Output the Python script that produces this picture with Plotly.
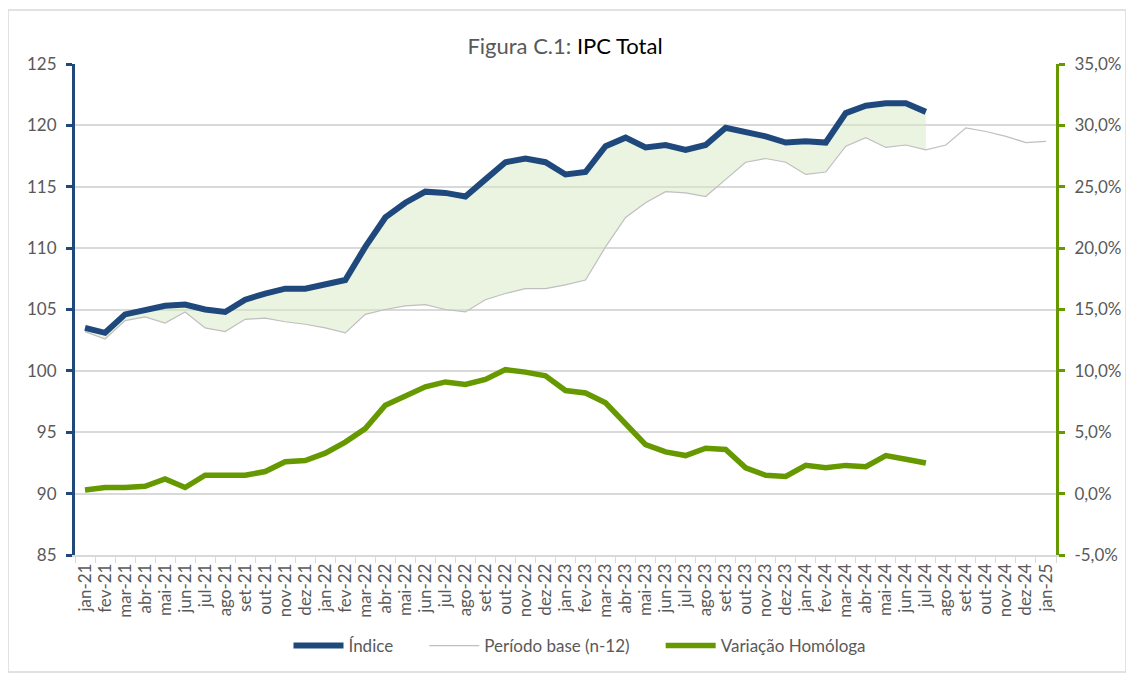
import plotly.graph_objects as go

BLUE = "#1F497D"
GREEN = "#669900"
GRAY_LINE = "#BFBFBF"
GRID_COL = "#D9D9D9"
TEXT_COL = "#595959"
FILL_COL = "rgba(216,232,196,0.5)"

MONTHS = ["jan", "fev", "mar", "abr", "mai", "jun", "jul", "ago", "set", "out", "nov", "dez"]
YEARS = ["21", "22", "23", "24"]
LABELS = [f"{m}-{y}" for y in YEARS for m in MONTHS] + ["jan-25"]

# Índice (jan-21 .. jul-24)
indice = [
    103.5, 103.1, 104.6, 105.0, 105.3, 105.4, 105.0, 104.8, 105.8, 106.3, 106.7, 106.7,
    107.0, 107.4, 110.1, 112.5, 113.7, 114.6, 114.5, 114.2, 115.6, 117.0, 117.3, 117.0,
    116.0, 116.2, 118.3, 119.0, 118.2, 118.4, 118.0, 118.4, 119.8, 119.5, 119.1, 118.6,
    118.7, 118.6, 121.0, 121.6, 121.8, 121.8, 121.1,
]

# Período base (n-12) (jan-21 .. jan-25)
base = [
    103.2, 102.6, 104.1, 104.4, 103.9, 104.8, 103.5, 103.2, 104.2, 104.3, 104.0, 103.8,
    103.5, 103.1, 104.6, 105.0, 105.3, 105.4, 105.0, 104.8, 105.8, 106.3, 106.7, 106.7,
    107.0, 107.4, 110.1, 112.5, 113.7, 114.6, 114.5, 114.2, 115.6, 117.0, 117.3, 117.0,
    116.0, 116.2, 118.3, 119.0, 118.2, 118.4, 118.0, 118.4, 119.8, 119.5, 119.1, 118.6,
    118.7,
]

# Variação Homóloga, % (jan-21 .. jul-24)
variacao = [
    0.3, 0.5, 0.5, 0.6, 1.2, 0.5, 1.5, 1.5, 1.5, 1.8, 2.6, 2.7,
    3.3, 4.2, 5.3, 7.2, 8.0, 8.7, 9.1, 8.9, 9.3, 10.1, 9.9, 9.6,
    8.4, 8.2, 7.4, 5.7, 4.0, 3.4, 3.1, 3.7, 3.6, 2.1, 1.5, 1.4,
    2.3, 2.1, 2.3, 2.2, 3.1, 2.8, 2.5,
]

Y_TICKS = [85, 90, 95, 100, 105, 110, 115, 120, 125]
Y2_TICKS = [-5, 0, 5, 10, 15, 20, 25, 30, 35]
Y2_TEXT = ["-5,0%", "0,0%", "5,0%", "10,0%", "15,0%", "20,0%", "25,0%", "30,0%", "35,0%"]

n = len(indice)
pad = "\u00a0" * 6  # extra gap between legend entries
fig = go.Figure()

# shaded area between index and base period
fig.add_trace(go.Scatter(x=LABELS[:n], y=base[:n], mode="lines",
                         line=dict(width=0), showlegend=False, hoverinfo="skip"))
fig.add_trace(go.Scatter(x=LABELS[:n], y=indice, mode="lines", fill="tonexty",
                         fillcolor=FILL_COL, line=dict(width=0),
                         showlegend=False, hoverinfo="skip"))

# grey line drawn before the blue one so the blue sits on top
fig.add_trace(go.Scatter(x=LABELS, y=base, mode="lines", name="Período base (n-12)" + pad,
                         line=dict(color=GRAY_LINE, width=1.2), legendrank=2))
fig.add_trace(go.Scatter(x=LABELS[:n], y=indice, mode="lines", name="Índice" + pad,
                         line=dict(color=BLUE, width=6), legendrank=1))
fig.add_trace(go.Scatter(x=LABELS[:n], y=variacao, mode="lines", name="Variação Homóloga",
                         line=dict(color=GREEN, width=5.5), yaxis="y2", legendrank=3))

# page body has an 8px margin, so the figure is 8px smaller and shifted
W, H = 1126, 670
L, T = 67, 56
R, B = W - 1048, H - 547
pw, ph = W - L - R, H - T - B

fig.update_layout(
    width=W, height=H,
    paper_bgcolor="white", plot_bgcolor="white",
    font=dict(family="Lato, Open Sans, sans-serif", size=16, color=TEXT_COL),
    margin=dict(l=L, r=R, t=T, b=B),
    title=dict(
        text="<span style='color:#595959'>Figura C.1: </span><span style='color:#000000'>IPC Total</span>",
        x=(565 - 8 - L) / pw, xref="paper", xanchor="center", y=1 - 38 / H, yanchor="middle",
        font=dict(size=22),
    ),
    xaxis=dict(
        type="category", categoryorder="array", categoryarray=LABELS,
        range=[-0.5, len(LABELS) - 0.5],
        showgrid=False, showline=True, linecolor=GRID_COL, linewidth=1.5,
        ticks="outside", tickson="boundaries", ticklen=6, tickcolor=GRID_COL,
        tickangle=-90, tickfont=dict(size=17, color=TEXT_COL),
    ),
    yaxis=dict(
        range=[85, 125], tickvals=Y_TICKS, showgrid=True, gridcolor=GRID_COL, gridwidth=1.5,
        zeroline=False, showline=True, linecolor=BLUE, linewidth=3,
        ticks="outside", ticklen=6, tickwidth=3, tickcolor=BLUE,
        ticklabelstandoff=6, tickfont=dict(size=17, color=TEXT_COL),
    ),
    yaxis2=dict(
        overlaying="y", side="right", range=[-5, 35],
        tickvals=Y2_TICKS, ticktext=Y2_TEXT, showgrid=False, zeroline=False,
        showline=True, linecolor=GREEN, linewidth=3,
        ticks="outside", ticklen=6, tickwidth=3, tickcolor=GREEN,
        ticklabelstandoff=6, tickfont=dict(size=17, color=TEXT_COL),
    ),
    legend=dict(
        orientation="h", x=(580 - 8 - L) / pw, xanchor="center",
        y=(547 - 638) / ph, yanchor="middle",
        font=dict(size=17, color=TEXT_COL), bgcolor="rgba(0,0,0,0)",
        itemwidth=50, traceorder="normal",
    ),
    shapes=[dict(
        type="rect", xref="paper", yref="paper", layer="below",
        x0=(0 - L) / pw, x1=(1118 - L) / pw,
        y0=(547 - 664) / ph, y1=(547 - 2) / ph,
        line=dict(color=GRID_COL, width=1.5),
    )],
    hovermode="x unified",
)

fig.write_html("out.html")
